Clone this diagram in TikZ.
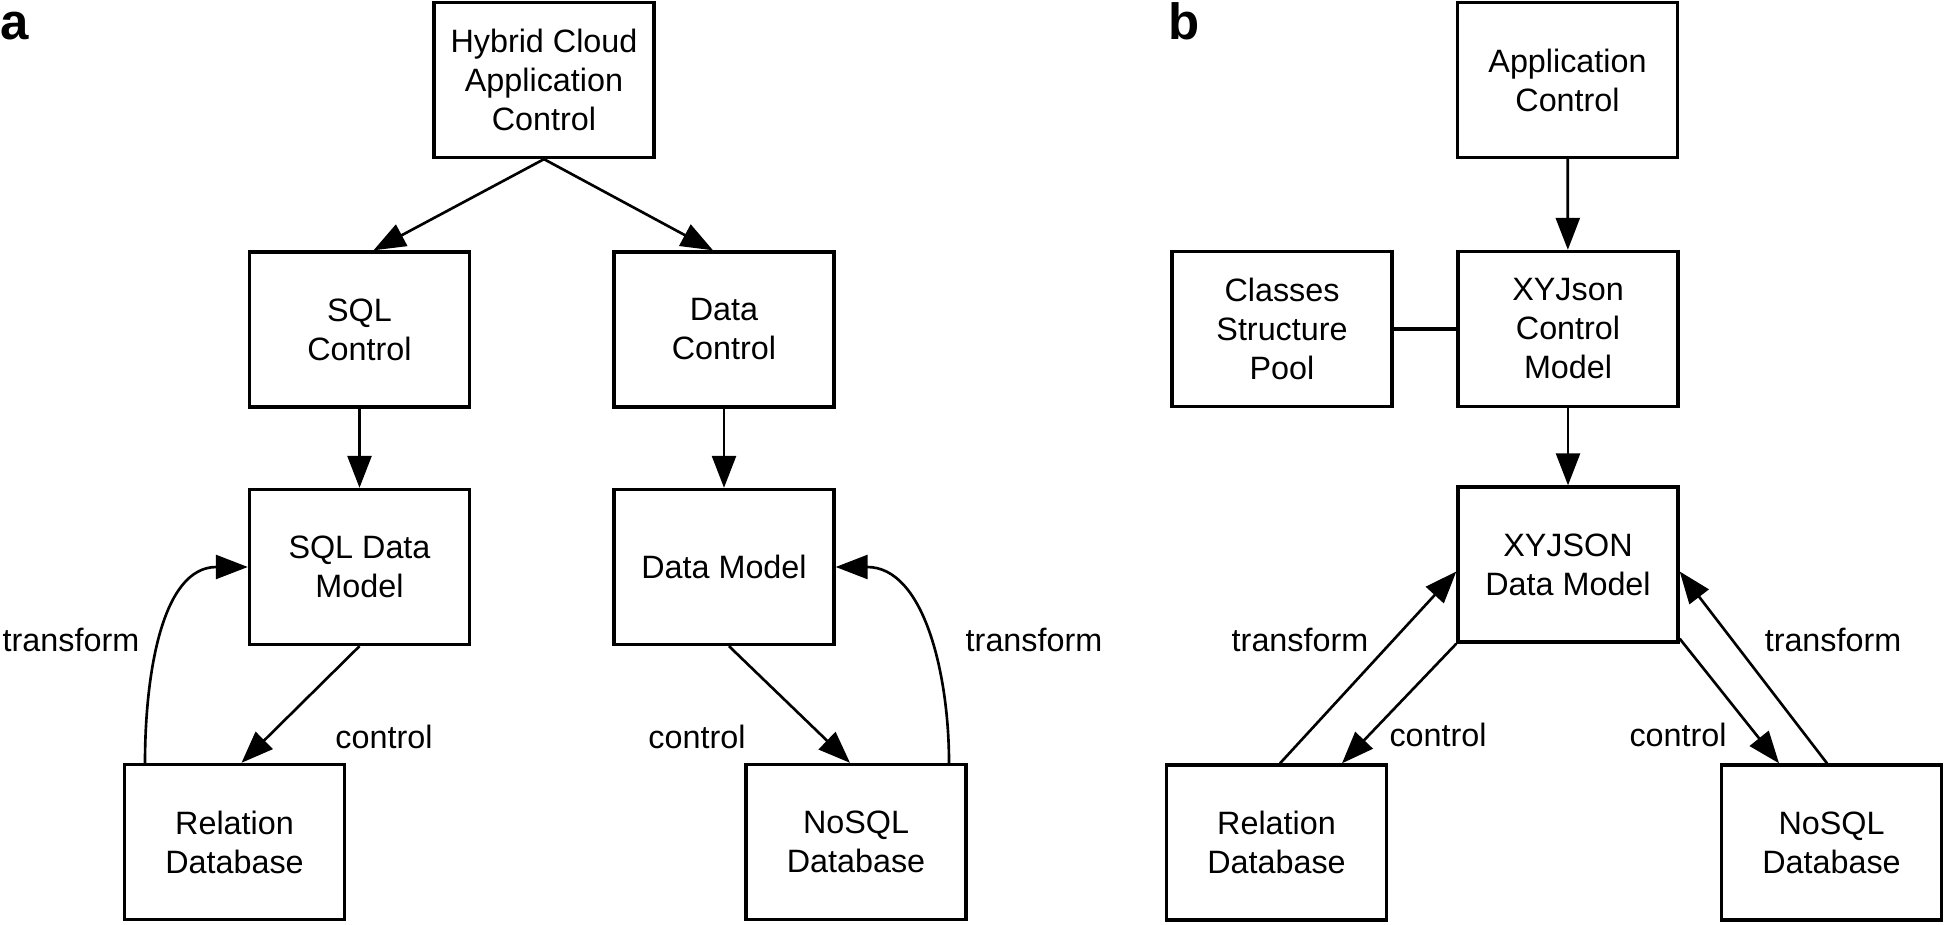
\documentclass[tikz,border=0pt]{standalone}
\usepackage{fontspec}
\setmainfont{Liberation Sans}
\usetikzlibrary{arrows.meta}
\tikzset{
	box/.style={draw, line width=0.95pt, minimum width=2.2cm, minimum height=1.55cm, align=center, inner sep=0pt, font=\fontsize{9.2}{11.1}\selectfont},
	lbl/.style={font=\fontsize{9.2}{11.1}\selectfont, inner sep=0pt},
	arr/.style={line width=0.75pt, -{Triangle[length=3.2mm, width=2.4mm]}},
	tag/.style={font=\fontsize{14.5}{16}\selectfont\bfseries, inner sep=0pt, anchor=base west}
}

\begin{document}
\begin{tikzpicture}
			%%%%% START %%%%%
			\useasboundingbox (0, 0) rectangle (19.44, -9.25);
			
			\node[tag] (pa) at (0, -0.40) {a};
			\node[tag] (pb) at (11.68, -0.40) {b};
			
			% panel a
			\node[box] (hca) at (5.44, -0.80) {Hybrid Cloud\\Application\\Control};
			\node[box] (sqlc) at (3.595, -3.295) {SQL\\Control};
			\node[box] (datac) at (7.24, -3.295) {Data\\Control};
			\node[box] (sqldm) at (3.595, -5.67) {SQL Data\\Model};
			\node[box] (datam) at (7.24, -5.67) {Data Model};
			\node[box] (reldb) at (2.345, -8.42) {Relation\\Database};
			\node[box] (nosqldb) at (8.56, -8.42) {NoSQL\\Database};
			
			\draw[arr] (hca.south) -- ([xshift=1.4mm]sqlc.north);
			\draw[arr] (hca.south) -- ([xshift=-1.1mm]datac.north);
			\draw[arr] (sqlc) -- (sqldm);
			\draw[arr] (datac) -- (datam);
			\draw[arr] (sqldm.south) -- ([xshift=0.7mm]reldb.north);
			\draw[arr] ([xshift=0.5mm]datam.south) -- ([xshift=-0.6mm]nosqldb.north);
			\draw[arr] ([xshift=-8.95mm]reldb.north) to[out=90, in=180] (sqldm.west);
			\draw[arr] ([xshift=9.3mm]nosqldb.north) to[out=90, in=0] (datam.east);
			
			\node[lbl] (tra) at (0.71, -6.40) {transform};
			\node[lbl] (cta) at (3.84, -7.37) {control};
			\node[lbl] (ctb) at (6.97, -7.37) {control};
			\node[lbl] (trb) at (10.34, -6.40) {transform};
			
			% panel b
			\node[box] (appc) at (15.675, -0.80) {Application\\Control};
			\node[box] (csp) at (12.82, -3.29) {Classes\\Structure\\Pool};
			\node[box] (xyc) at (15.68, -3.29) {XYJson\\Control\\Model};
			\node[box] (xyd) at (15.68, -5.645) {XYJSON\\Data Model};
			\node[box] (reldbb) at (12.765, -8.425) {Relation\\Database};
			\node[box] (nosqldbb) at (18.315, -8.425) {NoSQL\\Database};
			
			\draw[arr] (appc) -- (xyc);
			\draw[arr] (xyc) -- (xyd);
			\draw[line width=1.05pt] (csp) -- (xyc);
			\draw[arr] ([xshift=0.35mm]reldbb.north) -- ([yshift=-0.7mm]xyd.west);
			\draw[arr] (xyd.south west) -- ([xshift=6.55mm]reldbb.north);
			\draw[arr] ([yshift=0.5mm]xyd.south east) -- ([xshift=-5.25mm]nosqldbb.north);
			\draw[arr] ([xshift=-0.45mm]nosqldbb.north) -- ([yshift=-0.7mm]xyd.east);
			
			\node[lbl] (trc) at (13.00, -6.40) {transform};
			\node[lbl] (ctc) at (14.38, -7.35) {control};
			\node[lbl] (ctd) at (16.78, -7.35) {control};
			\node[lbl] (trd) at (18.33, -6.40) {transform};
			
			%%%%% END %%%%%
\end{tikzpicture}
\end{document}
